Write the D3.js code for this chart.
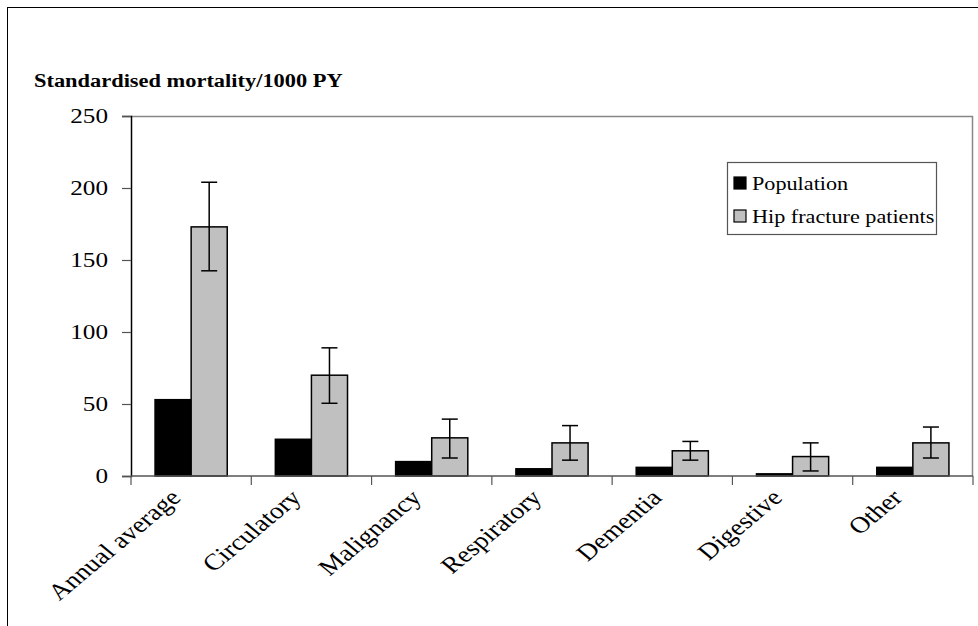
<!DOCTYPE html>
<html>
<head>
<meta charset="utf-8">
<script src="https://cdn.jsdelivr.net/npm/d3@7"></script>
<style>
  html, body { margin: 0; padding: 0; background: #fff; }
  svg { display: block; font-family: "Liberation Serif", "Times New Roman", serif; }
</style>
</head>
<body>
<div id="chart"></div>
<script>
/* Standardised mortality per 1000 person-years, by cause */

const categories = ["Annual average", "Circulatory", "Malignancy", "Respiratory", "Dementia", "Digestive", "Other"];
const population = [53, 25.5, 10, 5, 6, 1.5, 6];
const hipFracture = [173, 70, 26.5, 23, 17.5, 13.5, 23];
const hipLower = [142.5, 50.5, 12.5, 11, 11, 3.5, 12.5];
const hipUpper = [204, 89, 39.5, 35, 24, 23, 34];
const yTicks = [0, 50, 100, 150, 200, 250];
const seriesNames = ["Population", "Hip fracture patients"];

const W = 978, H = 626;
const plot = { left: 131, right: 973, top: 116, bottom: 476 };
const colors = ["#000000", "#c0c0c0"];
const sx = 1.2; // text in the original is drawn a little wide

const svg = d3.select("#chart").append("svg")
  .attr("width", W).attr("height", H);

/* outer chart frame (runs off right and bottom) */
svg.append("rect")
  .attr("x", 7.5).attr("y", 7.5)
  .attr("width", W + 20).attr("height", H + 20)
  .attr("fill", "none").attr("stroke", "#000").attr("stroke-width", 1);

/* title */
svg.append("text")
  .attr("transform", `translate(34,87) scale(1.18,1)`)
  .style("font-size", "19px").style("font-weight", "bold")
  .text("Standardised mortality/1000 PY");

/* scales */
const x0 = d3.scaleBand().domain(categories)
  .range([plot.left, plot.right]).paddingInner(0.4).paddingOuter(0.2);
const x1 = d3.scaleBand().domain(seriesNames).range([0, x0.bandwidth()]);
const y = d3.scaleLinear().domain([0, 250]).range([plot.bottom, plot.top]);

/* plot area border (top and right, gray) */
svg.append("path")
  .attr("d", `M${plot.left},${plot.top + 0.5}H${plot.right - 0.5}V${plot.bottom}`)
  .attr("fill", "none").attr("stroke", "#888").attr("stroke-width", 1.5);

/* bars */
const rows = categories.map((c, i) => ({
  cat: c, vals: [population[i], hipFracture[i]], lo: hipLower[i], hi: hipUpper[i]
}));

const groups = svg.append("g").selectAll("g")
  .data(rows).join("g")
  .attr("transform", d => `translate(${x0(d.cat)},0)`);

groups.selectAll("rect")
  .data(d => d.vals.map((v, k) => ({ name: seriesNames[k], v, k })))
  .join("rect")
    .attr("x", d => x1(d.name))
    .attr("y", d => y(d.v))
    .attr("width", x1.bandwidth())
    .attr("height", d => y(0) - y(d.v))
    .attr("fill", d => colors[d.k])
    .attr("stroke", "#000")
    .attr("stroke-width", 1.5);

/* error bars on the hip fracture series */
const cap = 8;
groups.each(function(d) {
  const g = d3.select(this);
  const cx = x1(seriesNames[1]) + x1.bandwidth() / 2;
  g.append("line")
    .attr("x1", cx).attr("x2", cx)
    .attr("y1", y(d.lo)).attr("y2", y(d.hi))
    .attr("stroke", "#000").attr("stroke-width", 1.5);
  [d.lo, d.hi].forEach(v => {
    g.append("line")
      .attr("x1", cx - cap).attr("x2", cx + cap)
      .attr("y1", y(v)).attr("y2", y(v))
      .attr("stroke", "#000").attr("stroke-width", 1.5);
  });
});

/* y axis */
svg.append("g")
  .attr("transform", `translate(${plot.left},0)`)
  .call(d3.axisLeft(y).tickValues(yTicks).tickSize(9))
  .call(g => g.select(".domain").attr("stroke", "#000").attr("stroke-width", 1.5))
  .call(g => g.selectAll(".tick line").attr("stroke", "#555").attr("stroke-width", 1.2))
  .call(g => g.selectAll("text")
    .attr("x", -23 / sx)
    .attr("transform", `scale(${sx},1)`)
    .attr("fill", "#000")
    .style("font-family", "Liberation Serif, serif")
    .style("font-size", "21px"));

/* x axis: category boundary ticks */
const boundaries = d3.range(categories.length + 1);
const step = x0.step();
svg.append("line")
  .attr("x1", plot.left).attr("x2", plot.right)
  .attr("y1", plot.bottom).attr("y2", plot.bottom)
  .attr("stroke", "#555").attr("stroke-width", 1.5);
svg.append("g").selectAll("line")
  .data(boundaries).join("line")
  .attr("x1", i => plot.left + i * step).attr("x2", i => plot.left + i * step)
  .attr("y1", plot.bottom).attr("y2", plot.bottom + 9)
  .attr("stroke", "#555").attr("stroke-width", 1.2);

svg.append("g").selectAll("text")
  .data(categories).join("text")
  .attr("transform", d => `translate(${x0(d) + x0.bandwidth() / 2 - 9},${plot.bottom + 23}) scale(${sx},1) rotate(-45)`)
  .attr("text-anchor", "end")
  .style("font-size", "23px")
  .text(d => d);

/* legend */
const lg = svg.append("g");
lg.append("rect")
  .attr("x", 727.5).attr("y", 162.5).attr("width", 209).attr("height", 72)
  .attr("fill", "#fff").attr("stroke", "#555").attr("stroke-width", 1.2);
seriesNames.forEach((name, k) => {
  const yy = 177 + k * 33;
  lg.append("rect")
    .attr("x", 734).attr("y", yy).attr("width", 12).attr("height", 12)
    .attr("fill", colors[k]).attr("stroke", "#000").attr("stroke-width", 1.2);
  lg.append("text")
    .attr("transform", `translate(752,${yy + 13}) scale(${sx},1)`)
    .style("font-size", "18.5px")
    .text(name);
});
</script>
</body>
</html>
